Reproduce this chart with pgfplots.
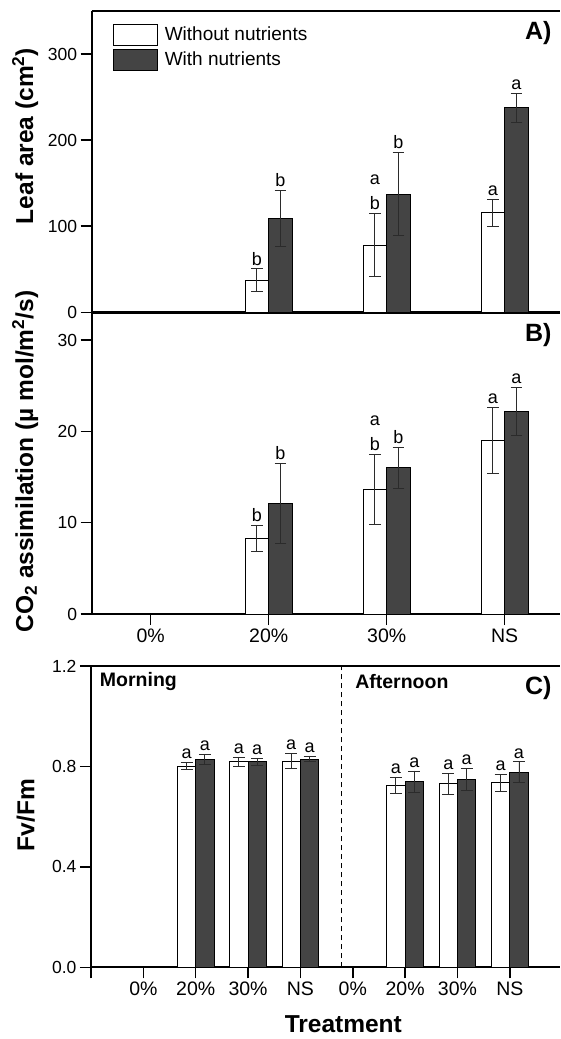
\documentclass[border=0pt]{standalone}
\usepackage{fontspec}
\setmainfont{Liberation Sans}
\usepackage{pgfplots}
\usepackage{pgfplotstable}
\pgfplotsset{compat=1.18}
\definecolor{barfill}{HTML}{444444}
\definecolor{errc}{HTML}{2B2B2B}

% Panel A: leaf area
\pgfplotstableread{
x y e
0.9 37.4 13
1.9 78.0 36.5
2.9 115.4 16
}\Awhite
\pgfplotstableread{
x y e
1.1 108.9 32.5
2.1 137.4 48
3.1 237.5 17
}\Adark
\pgfplotstableread{
x y lab
0.9 50.4 b
1.1 141.4 b
1.9 114.5 b
1.9 143.5 a
2.1 185.4 b
2.9 131.4 a
3.1 254.5 a
}\Alet

% Panel B: CO2 assimilation
\pgfplotstableread{
x y e
0.9 8.3 1.4
1.9 13.66 3.8
2.9 19.0 3.6
}\Bwhite
\pgfplotstableread{
x y e
1.1 12.1 4.4
2.1 16.0 2.2
3.1 22.2 2.6
}\Bdark
\pgfplotstableread{
x y lab
0.9 9.7 b
1.1 16.5 b
1.9 17.46 b
1.9 20.2 a
2.1 18.2 b
2.9 22.6 a
3.1 24.8 a
}\Blet

% Panel C: Fv/Fm
\pgfplotstableread{
x y e
1.825 0.801 0.014
2.825 0.818 0.017
3.825 0.821 0.030
5.825 0.724 0.032
6.825 0.731 0.042
7.825 0.735 0.033
}\Cwhite
\pgfplotstableread{
x y e
2.175 0.829 0.020
3.175 0.818 0.014
4.175 0.829 0.011
6.175 0.739 0.043
7.175 0.748 0.043
8.175 0.777 0.041
}\Cdark
\pgfplotstableread{
x y lab
1.825 0.815 a
2.175 0.849 a
2.825 0.835 a
3.175 0.832 a
3.825 0.851 a
4.175 0.840 a
5.825 0.756 a
6.175 0.782 a
6.825 0.773 a
7.175 0.791 a
7.825 0.768 a
8.175 0.818 a
}\Clet

\tikzset{plab/.style={anchor=east, font=\fontsize{25}{27}\selectfont\bfseries}}
\pgfplotsset{
  panel/.style={
    scale only axis, height=301.3pt,
    axis x line*=box, axis y line*=left,
    axis line style={-, line width=1.8pt},
    tick align=outside, major tick length=11pt,
    every tick/.style={black, line width=1.5pt},
    xtick pos=left, ytick pos=left,
    xticklabel style={font=\fontsize{19.5}{21}\selectfont},
    yticklabel style={font=\fontsize{17.5}{20}\selectfont},
    /pgf/number format/assume math mode=true,
    clip=false,
    label style={font=\fontsize{24.5}{27}\selectfont\bfseries},
  },
  barbase/.style 2 args={ybar, bar width=#1, bar shift=0pt, line width=1pt,
    error bars/y dir=both, error bars/y explicit,
    error bars/error bar style={line width=0.9pt, errc},
    error bars/error mark options={rotate=90, mark size=#2, line width=0.9pt, errc}},
  letters/.style={only marks, mark=*, mark size=0pt, mark options={draw=none, fill=none},
    nodes near coords, point meta=explicit symbolic, forget plot,
    nodes near coords style={font=\fontsize{18}{20}\selectfont, anchor=south, inner sep=3.5pt, text=black}},
}

\begin{document}
\begin{tikzpicture}
% ---------------- Panel A
\begin{axis}[panel,
  at={(91.7pt,-312.3pt)}, anchor=south west, width=468.3pt,
  xmin=-0.5, xmax=3.469, ymin=0, ymax=350,
  xtick=\empty, ytick={0,100,200,300},
  ylabel={Leaf area (cm\textsuperscript{2})},
  ylabel style={at={(axis description cs:-0.142,0.585)}, anchor=center},
  legend style={at={(axis description cs:0.0461,0.959)}, anchor=north west,
    draw=none, fill=none, inner sep=0pt, row sep=2.3pt, column sep=6.3pt,
    font=\fontsize{19}{21}\selectfont, nodes={inner sep=0pt}},
  legend cell align=left,
  legend image code/.code={\draw[#1, line width=1pt] (0pt,-11.7pt) rectangle (44pt,10pt);},
]
\addplot[draw=black, fill=white, barbase={0.2}{5.8pt}] table[x=x, y=y, y error=e] {\Awhite};
\addplot[draw=black, fill=barfill, barbase={0.2}{5.8pt}] table[x=x, y=y, y error=e] {\Adark};
\legend{Without nutrients, With nutrients}
\addplot[letters] table[x=x, y=y, meta=lab] {\Alet};
\node[plab] at (axis description cs:0.9893,0.927) {A)};
\end{axis}
% ---------------- Panel B
\begin{axis}[panel,
  at={(91.7pt,-614pt)}, anchor=south west, width=468.3pt,
  xmin=-0.5, xmax=3.469, ymin=0, ymax=33,
  xtick={0,1,2,3}, xticklabels={0\%,20\%,30\%,NS},
  ytick={0,10,20,30},
  ylabel={CO\textsubscript{2} assimilation (µ mol/m\textsuperscript{2}/s)},
  ylabel style={at={(axis description cs:-0.142,0.506)}, anchor=center},
]
\addplot[draw=black, fill=white, barbase={0.2}{5.8pt}] table[x=x, y=y, y error=e] {\Bwhite};
\addplot[draw=black, fill=barfill, barbase={0.2}{5.8pt}] table[x=x, y=y, y error=e] {\Bdark};
\addplot[letters] table[x=x, y=y, meta=lab] {\Blet};
\node[plab] at (axis description cs:0.9893,0.926) {B)};
\end{axis}
% ---------------- Panel C
\begin{axis}[panel,
  at={(91pt,-967.3pt)}, anchor=south west, width=469pt,
  xmin=0, xmax=8.959, ymin=0, ymax=1.2,
  xtick={0,1,2,3,4,5,6,7,8},
  xticklabels={,0\%,20\%,30\%,NS,0\%,20\%,30\%,NS},
  ytick={0,0.4,0.8,1.2},
  yticklabel style={/pgf/number format/.cd, fixed, fixed zerofill, precision=1},
  ylabel={Fv/Fm},
  ylabel style={at={(axis description cs:-0.139,0.505)}, anchor=center},
  xlabel={Treatment},
  xlabel style={at={(axis description cs:0.538,-0.19)}, anchor=center, inner sep=0pt},
]
\addplot[draw=black, fill=white, barbase={0.35}{6pt}] table[x=x, y=y, y error=e] {\Cwhite};
\addplot[draw=black, fill=barfill, barbase={0.35}{6pt}] table[x=x, y=y, y error=e] {\Cdark};
\addplot[letters] table[x=x, y=y, meta=lab] {\Clet};
\draw[dash pattern=on 5pt off 4pt, line width=0.9pt] (axis cs:4.79,0) -- (axis cs:4.79,1.2);
\node[anchor=west, font=\fontsize{19.5}{21}\selectfont\bfseries] at (axis description cs:0.0115,0.948) {Morning};
\node[anchor=west, font=\fontsize{19.5}{21}\selectfont\bfseries] at (axis description cs:0.556,0.948) {Afternoon};
\node[plab] at (axis description cs:0.9893,0.927) {C)};
\end{axis}
\pgfresetboundingbox
\useasboundingbox (0pt,0pt) rectangle (560pt,-1039pt);
\end{tikzpicture}
\end{document}
